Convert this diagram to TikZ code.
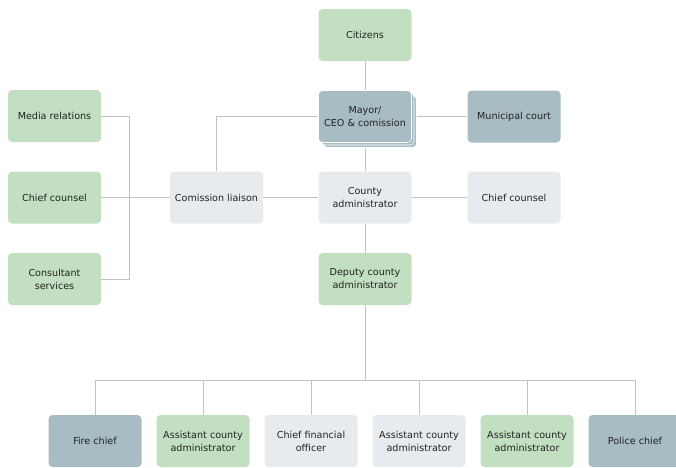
\documentclass[tikz,border=0pt]{standalone}
\usepackage{fontspec}
\setmainfont{DejaVu Sans}
\usetikzlibrary{backgrounds}
\definecolor{grn}{HTML}{C2DFC1}
\definecolor{lgr}{HTML}{E8EBEE}
\definecolor{slt}{HTML}{A8BCC3}
\definecolor{txt}{HTML}{222222}
\definecolor{ln}{HTML}{C2C2C2}
\begin{document}
\begin{tikzpicture}[x=1pt,y=-1pt,
  box/.style={rounded corners=4pt, minimum width=93pt, minimum height=52pt, inner sep=0pt, align=center, font=\fontsize{9.6}{13}\selectfont, text=txt},
  gbox/.style={box, fill=grn},
  lbox/.style={box, fill=lgr},
  sbox/.style={box, fill=slt},
  conn/.style={draw=ln, line width=0.9pt}]
\useasboundingbox (0,0) rectangle (676,467);
\node[gbox] (citizens) at (365,35) {Citizens};
\node[sbox, draw=white, line width=0.6pt] (mayor3) at (370,121.5) {};
\node[sbox, draw=white, line width=0.6pt] (mayor2) at (367.5,119) {};
\node[sbox, draw=white, line width=0.6pt] (mayor) at (365,116.5) {Mayor/\\CEO \& comission};
\node[sbox] (court) at (514,116.5) {Municipal court};
\node[lbox] (county) at (365,197.5) {County\\administrator};
\node[lbox] (chiefR) at (514,197.5) {Chief counsel};
\node[lbox] (liaison) at (216.5,197.5) {Comission liaison};
\node[gbox] (media) at (54.5,116) {Media relations};
\node[gbox] (chiefL) at (54.5,197.5) {Chief counsel};
\node[gbox] (consult) at (54.5,279) {Consultant\\services};
\node[gbox] (deputy) at (365,279) {Deputy county\\administrator};
\node[sbox] (fire) at (95,441) {Fire chief};
\node[gbox] (asst1) at (203,441) {Assistant county\\administrator};
\node[lbox] (cfo) at (311,441) {Chief financial\\officer};
\node[lbox] (asst2) at (419,441) {Assistant county\\administrator};
\node[gbox] (asst3) at (527,441) {Assistant county\\administrator};
\node[sbox] (police) at (635,441) {Police chief};
\coordinate (busL) at (129,197.5);
\coordinate (busB) at (365,380);
\begin{scope}[on background layer]
\draw[conn] (citizens) -- (mayor);
\draw[conn] (mayor.west) -| (liaison.north);
\draw[conn] (mayor) -- (court);
\draw[conn] (mayor) -- (county);
\draw[conn] (liaison) -- (county);
\draw[conn] (county) -- (chiefR);
\draw[conn] (county) -- (deputy);
\draw[conn] (liaison.west) -- (busL);
\draw[conn] (media.east) -| (busL);
\draw[conn] (chiefL.east) -- (busL);
\draw[conn] (consult.east) -| (busL);
\draw[conn] (deputy) -- (busB);
\foreach \n in {fire,asst1,cfo,asst2,asst3,police}
  \draw[conn] (busB) -| (\n.north);
\end{scope}
\end{tikzpicture}
\end{document}
